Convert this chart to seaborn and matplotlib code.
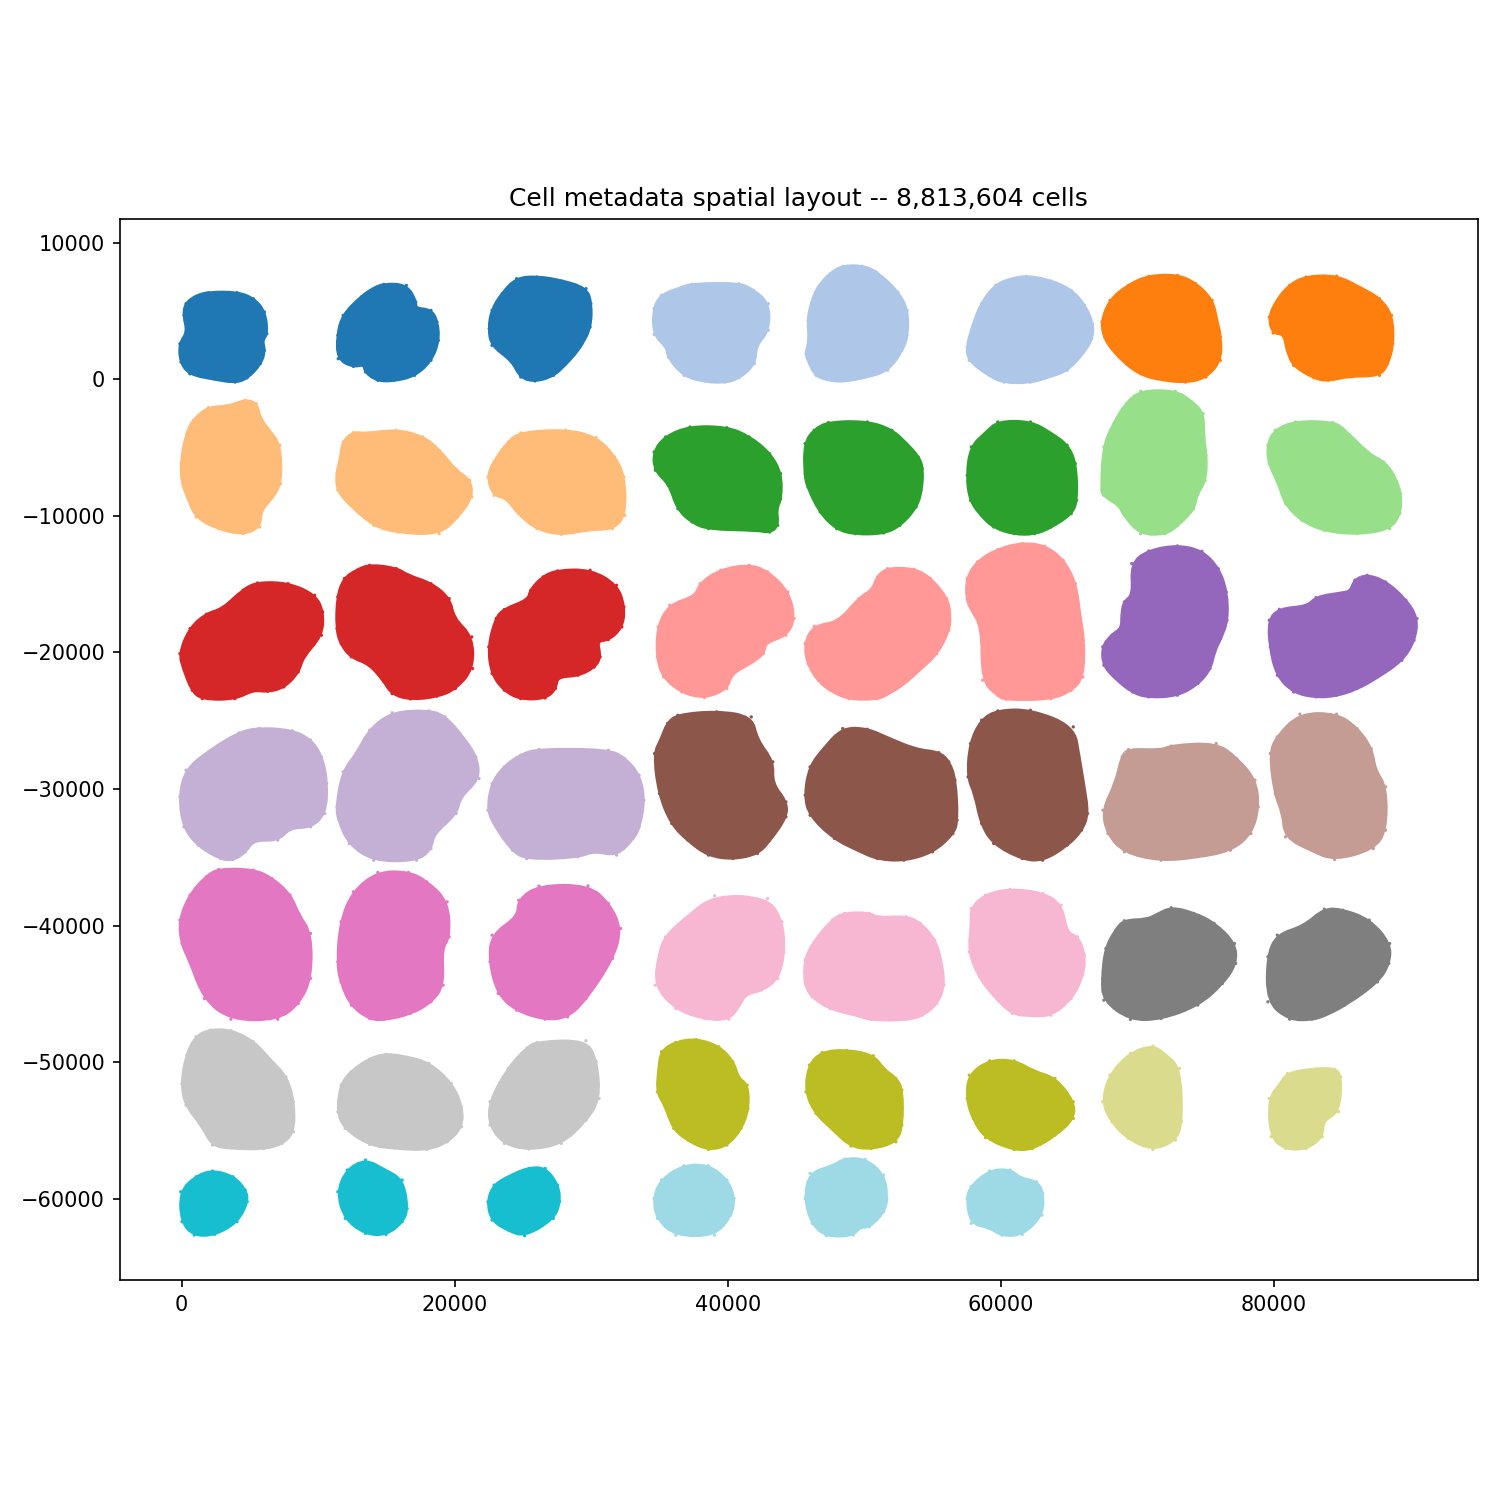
"""Spatial layout of all tissue sections, one colour per tab20 group."""

import matplotlib

matplotlib.use("Agg")
import matplotlib.pyplot as plt
import numpy as np
import pandas as pd
import seaborn as sns
from matplotlib.patches import PathPatch
from matplotlib.path import Path

TITLE = "Cell metadata spatial layout -- 8,813,604 cells"
X_TICKS = [0, 20000, 40000, 60000, 80000]
Y_TICKS = [10000, 0, -10000, -20000, -30000, -40000, -50000, -60000]

# how many consecutive sections share each tab20 colour
GROUP_SIZES = [3, 3, 2, 3, 3, 2, 3, 3, 2, 3, 3, 2, 3, 3, 2, 3, 3, 2, 3, 3]

# section outlines, (x, y) in data units
S01 = [(1960,6340),(4050,6340),(5250,5900),(6060,4930),(6240,3340),(5850,2850),(6060,2120),(5760,1150),(4800,120),(3900,-200),(2400,50),(600,400),(-50,1270),(-130,2600),(470,3460),(170,4680),(320,5540),(1060,6080)]
S02 = [(14820,6950),(16460,6880),(17150,5660),(17060,5170),(18260,5050),(18700,4200),(18800,2850),(18260,1390),(17060,290),(15570,-70),(14370,-70),(13470,540),(13410,1150),(12580,950),(11470,1510),(11440,3220),(11830,4680),(13170,6030),(14070,6640)]
S03 = [(24540,7370),(26030,7490),(27820,7200),(29620,6640),(29980,5540),(29920,3830),(29320,2610),(28720,1800),(28120,1150),(27230,290),(25880,-120),(24840,170),(24240,1390),(22740,2490),(22530,3710),(22740,5050),(23490,6270)]
S04 = [(37390,6950),(40830,7000),(41880,6510),(42980,5540),(42980,3590),(42030,2490),(41970,1150),(40830,120),(39780,-200),(38290,-120),(36800,290),(35660,1630),(35600,2370),(34610,3290),(34610,5170),(35150,6150),(36500,6640)]
S05 = [(48430,8270),(49860,8270),(50880,7860),(52460,6390),(53150,5050),(53150,3220),(52760,2120),(51720,660),(50070,170),(48430,-120),(47380,-20),(46480,290),(46040,1150),(45740,1880),(46040,2850),(45890,4320),(46190,5660),(46640,6760),(47530,7740)]
S06 = [(61880,7540),(63680,7200),(65170,6510),(66130,5420),(66730,4070),(66670,2980),(66070,2000),(64870,660),(63380,170),(62180,-200),(60240,-200),(59190,290),(57700,1390),(57550,2370),(58000,3950),(58600,5540),(59640,6880),(60690,7300)]
S07 = [(70850,7540),(72950,7610),(74290,7000),(75490,5780),(75790,4320),(76090,3100),(76090,1390),(75040,170),(73540,-200),(71450,50),(70260,410),(69210,1150),(68160,2240),(67620,3100),(67420,4200),(68010,5780),(69360,6880)]
S08 = [(82370,7490),(84610,7560),(86400,6640),(87750,5900),(88640,4680),(88730,2610),(88340,1150),(87750,290),(85500,290),(84010,-70),(82960,120),(81470,1020),(81020,2120),(80780,3390),(79970,3390),(79680,4560),(80270,5780),(81170,6880)]
S09 = [(4650,-1540),(5460,-1780),(5700,-2880),(6450,-3860),(7190,-4830),(7250,-7640),(6540,-8740),(5760,-9590),(5700,-10810),(4500,-11300),(2710,-10930),(1060,-10080),(470,-8610),(80,-7640),(-40,-6170),(380,-3980),(860,-3000),(1960,-2070),(3460,-2030)]
S10 = [(12580,-3900),(13470,-4030),(15720,-3730),(17660,-4220),(18860,-5200),(20050,-6710),(21100,-7390),(21250,-8610),(20200,-10080),(18860,-11300),(15870,-11180),(14070,-10690),(12280,-9100),(11440,-8120),(11380,-6900),(11680,-5810),(11830,-4590)]
S11 = [(24840,-3930),(28120,-3730),(30370,-4270),(31710,-5680),(32400,-7150),(32460,-9960),(31560,-10930),(29920,-10930),(27820,-11350),(26030,-10930),(24690,-9830),(23790,-8610),(22890,-8490),(22440,-7150),(22890,-6050),(23940,-4590)]
S12 = [(37240,-3490),(39940,-3540),(41580,-4220),(43070,-5440),(43880,-6900),(43880,-8740),(43520,-9470),(43670,-10690),(43070,-11180),(42180,-11000),(38590,-10930),(37390,-10440),(36350,-9470),(35750,-7640),(34700,-6660),(34610,-5320),(35450,-4220)]
S13 = [(47380,-3170),(50220,-3120),(52020,-3730),(53060,-4710),(53960,-5680),(54260,-6540),(54170,-8120),(53810,-9340),(52620,-10690),(51420,-11250),(49330,-11300),(47980,-10930),(46780,-9710),(45890,-7880),(45680,-6900),(45680,-4710),(46340,-3730)]
S14 = [(59790,-3120),(62180,-3120),(63680,-3980),(64870,-4830),(65470,-6170),(65560,-8860),(65170,-9830),(63680,-10810),(62480,-11300),(60990,-11300),(59490,-10810),(58600,-9950),(57790,-8860),(57550,-7030),(57850,-4950),(58890,-3980)]
S15 = [(70260,-880),(72800,-880),(73990,-1660),(74830,-2510),(74830,-4460),(75040,-5560),(74980,-7390),(74290,-8490),(74140,-9470),(72950,-10690),(72050,-11300),(70260,-11300),(69060,-9950),(68760,-9220),(67560,-8490),(67420,-8120),(67560,-4950),(68310,-3240),(69210,-1780)]
S16 = [(81620,-3120),(84310,-3170),(85060,-3610),(87000,-5560),(88050,-6050),(88790,-7030),(89300,-8370),(89240,-9830),(88500,-10930),(86100,-11300),(83710,-11050),(82070,-10320),(80870,-9100),(80420,-7640),(79680,-6170),(79580,-4830),(80120,-3730)]
S17 = [(5550,-14910),(7790,-14960),(9740,-15810),(10330,-17030),(10240,-18740),(8840,-20320),(8540,-21420),(7490,-22520),(6300,-22840),(5250,-22690),(3900,-23380),(1510,-23380),(770,-22760),(170,-21180),(-130,-20080),(620,-18250),(1810,-17200),(3010,-16860),(4500,-15440)]
S18 = [(13770,-13620),(15720,-13860),(16610,-14420),(18260,-14960),(19600,-16060),(19900,-17520),(21250,-18860),(21310,-21180),(20050,-22640),(18700,-23200),(16760,-23400),(15420,-23010),(14820,-22030),(13770,-20810),(12430,-20320),(11680,-19350),(11380,-18250),(11440,-15930),(11920,-14590),(12880,-13980)]
S19 = [(27530,-14030),(29920,-13980),(31860,-15080),(32400,-16660),(32250,-18130),(31260,-19060),(30370,-19100),(30660,-20320),(30220,-21060),(29020,-21670),(27470,-21740),(27380,-22640),(26630,-23330),(24840,-23380),(23640,-22760),(22740,-21540),(22500,-19590),(23040,-17520),(23640,-16860),(25430,-16180),(25580,-15440),(26480,-14470)]
S20 = [(41580,-13620),(42920,-14100),(44420,-15570),(44870,-17520),(44270,-18740),(42720,-19230),(42620,-20080),(41580,-20810),(40230,-21540),(39940,-22640),(38290,-23300),(36650,-22890),(35300,-21790),(34850,-20320),(34910,-18130),(35750,-16540),(37690,-15930),(37990,-14960),(39490,-13980)]
S21 = [(51720,-13860),(53660,-13910),(54860,-14590),(56050,-16060),(56260,-17150),(56200,-18370),(55310,-20080),(54110,-21180),(52910,-22280),(51720,-23010),(50970,-23380),(48880,-23380),(47530,-22760),(46640,-22030),(45890,-20810),(45680,-19350),(46340,-18080),(48130,-17840),(49620,-16060),(50670,-15440),(50970,-14470)]
S22 = [(61580,-12030),(63230,-12220),(64580,-13250),(65470,-14960),(65770,-17400),(66070,-19100),(66010,-21790),(65170,-22760),(63680,-23380),(60390,-23420),(59790,-23130),(58680,-22030),(58680,-18130),(57850,-16790),(57550,-16060),(57550,-14590),(58300,-13370),(59790,-12470)]
S23 = [(72950,-12200),(74740,-12590),(75940,-13860),(76530,-15570),(76590,-17640),(76090,-18980),(75640,-19840),(75340,-21180),(74440,-22280),(72950,-23130),(70850,-23250),(69660,-22890),(68460,-21910),(67560,-20940),(67480,-19590),(68160,-18740),(68910,-18250),(68910,-17280),(69060,-16300),(69750,-15810),(69600,-13490),(70850,-12570)]
S24 = [(86850,-14350),(88200,-14840),(89690,-16180),(90500,-17520),(90290,-19100),(89390,-20570),(87600,-21790),(86100,-22640),(84610,-23130),(83110,-23250),(81470,-22890),(80270,-21670),(79760,-19590),(79680,-17640),(80420,-16840),(82520,-16660),(83110,-15980),(84910,-15690),(85660,-15570),(85950,-14710)]
S25 = [(5700,-25570),(8090,-25740),(9440,-26420),(10240,-27640),(10630,-29600),(10480,-31790),(9440,-32770),(7940,-32770),(7040,-33740),(5250,-33670),(4650,-34600),(3760,-35160),(2860,-35090),(1210,-34110),(170,-32770),(-130,-30570),(320,-28620),(1960,-27280),(4200,-25890)]
S26 = [(15420,-24420),(18110,-24280),(19300,-24720),(20650,-26300),(21550,-27640),(21780,-29230),(20350,-30570),(20110,-31790),(18410,-33260),(18260,-34360),(17210,-35210),(14070,-35210),(12280,-33990),(11530,-32280),(11380,-31300),(11830,-28740),(12880,-27400),(13770,-25690)]
S27 = [(26180,-27110),(31260,-27160),(32460,-27770),(33510,-28990),(33860,-30820),(33510,-32770),(33060,-33620),(31860,-34840),(30220,-34480),(29020,-34960),(25280,-35090),(24240,-34480),(23040,-32770),(22440,-31550),(22740,-29600),(23640,-28380),(24840,-27520)]
S28 = [(36350,-24600),(39190,-24350),(41730,-24720),(42120,-26420),(43310,-28010),(43220,-29600),(44270,-30940),(44270,-32040),(43070,-33740),(42180,-34720),(40380,-35090),(38590,-34840),(37090,-33740),(35900,-32520),(35000,-30330),(34640,-27400),(35150,-26420),(35600,-25200)]
S29 = [(48430,-25570),(50220,-25620),(51720,-26300),(53810,-27160),(55460,-27330),(56200,-28010),(56650,-29350),(56800,-32280),(56500,-33260),(55010,-34600),(52910,-35210),(50970,-35090),(49620,-34480),(47830,-33620),(46040,-31920),(45680,-30450),(46040,-28380),(47080,-27040)]
S30 = [(59790,-24280),(62180,-24230),(65320,-25450),(65710,-27640),(66070,-29840),(66370,-31790),(65920,-33010),(64870,-34110),(63080,-35210),(61580,-35090),(59490,-33990),(58600,-32520),(58150,-30330),(57610,-29110),(57790,-26670),(58600,-24960)]
S31 = [(69360,-27110),(71750,-27210),(72500,-26860),(75790,-26670),(77280,-27770),(78630,-29350),(78870,-31300),(78330,-33260),(76830,-34480),(74400,-34950),(71750,-35210),(69060,-34600),(67860,-33260),(67500,-31550),(68460,-29600),(68910,-27640)]
S32 = [(81920,-24520),(84610,-24520),(86100,-25570),(87150,-27040),(87390,-28620),(88200,-29840),(88200,-33010),(87300,-34360),(84460,-35160),(82810,-34480),(80870,-33500),(80720,-31790),(80120,-30330),(79760,-27400),(80270,-26180)]
S33 = [(2710,-35890),(5250,-35940),(6600,-36550),(7940,-37770),(8540,-39240),(9440,-40580),(9440,-43870),(8540,-45700),(7040,-46850),(3610,-46850),(1660,-45340),(620,-42530),(20,-41310),(-130,-39600),(620,-37770),(1810,-36430)]
S34 = [(14370,-36110),(16610,-36110),(17960,-36800),(19450,-38260),(19600,-40820),(19000,-41680),(19150,-44360),(18260,-45580),(16760,-46430),(14820,-46870),(13770,-46800),(12430,-45820),(11680,-44120),(11440,-42650),(11680,-39720),(12580,-37530)]
S35 = [(26180,-37110),(29770,-37090),(31260,-38380),(32160,-40210),(31560,-42410),(29620,-45340),(28270,-46680),(26630,-46850),(24540,-46190),(23190,-44970),(22590,-42650),(22740,-40700),(24690,-39360),(24690,-38140)]
S36 = [(39040,-37820),(42920,-38020),(43970,-39720),(44120,-41920),(43670,-43870),(42480,-44720),(41280,-44970),(40830,-45820),(40080,-46850),(38290,-46800),(36200,-46070),(34700,-44360),(35000,-42160),(35450,-40820),(36940,-39480)]
S37 = [(48580,-39110),(50370,-39110),(50970,-39480),(53060,-39360),(54110,-39840),(55160,-41060),(55600,-42530),(55840,-44360),(55310,-45700),(54260,-46560),(53060,-46870),(50520,-46870),(49620,-46560),(47530,-46070),(46190,-45210),(45680,-44240),(45680,-42530),(46340,-41190),(47680,-39600)]
S38 = [(60690,-37360),(63080,-37650),(64430,-38500),(64810,-40580),(65620,-40820),(66130,-42160),(66010,-43630),(65170,-45340),(63680,-46560),(62180,-46560),(60840,-46430),(59490,-45090),(58450,-43750),(57700,-41920),(57910,-39840),(57850,-38750),(58890,-37770)]
S39 = [(72500,-38700),(74140,-39110),(75640,-39840),(77130,-41310),(77220,-42770),(76240,-44240),(74440,-45820),(71750,-46800),(69510,-46870),(67560,-45460),(67480,-43870),(67710,-41680),(68460,-40330),(69060,-39650),(70700,-39600),(71450,-39240)]
S40 = [(83710,-38800),(85060,-38870),(87000,-39600),(88500,-41310),(88440,-42770),(87600,-44120),(85210,-45820),(83710,-46560),(82810,-46850),(81170,-46850),(79580,-45580),(79580,-42280),(80270,-40700),(82220,-40090)]
S41 = [(2110,-47650),(3610,-47700),(5250,-48510),(6450,-49850),(7640,-51070),(8180,-52900),(8180,-55100),(7340,-55950),(6000,-56320),(3610,-56270),(2260,-56070),(1510,-54610),(320,-53140),(20,-51560),(380,-49480),(1060,-48140)]
S42 = [(14970,-49430),(16460,-49650),(18110,-50090),(19750,-51560),(20500,-53260),(20500,-54730),(19450,-55830),(17960,-56390),(15570,-56270),(13770,-56020),(11980,-54850),(11440,-53630),(11680,-51680),(12430,-50700),(13770,-49780)]
S43 = [(26030,-48560),(29620,-48430),(30370,-49970),(30580,-52660),(29620,-54240),(27820,-55950),(25430,-56360),(23640,-55950),(22590,-54610),(22590,-52900),(23940,-50460),(25280,-49000)]
S44 = [(37690,-48340),(39340,-48870),(40380,-49970),(40740,-51190),(41430,-51680),(41490,-53390),(40980,-54850),(39940,-56070),(38590,-56390),(37090,-55700),(36050,-54850),(35450,-53140),(34850,-52170),(35000,-50460),(35150,-49240),(36200,-48560)]
S45 = [(48730,-49140),(50670,-49530),(51420,-50580),(52320,-51190),(52760,-52040),(52760,-54610),(52320,-55830),(50520,-56320),(49030,-56140),(47680,-54850),(46480,-53750),(45740,-52170),(45980,-50220),(46930,-49290)]
S46 = [(59190,-49900),(60990,-49900),(62480,-50750),(63980,-51190),(65320,-52900),(65320,-54120),(63980,-55340),(62330,-56320),(60990,-56390),(58890,-55530),(58000,-54120),(57550,-52660),(57700,-50950)]
S47 = [(71150,-48820),(72050,-49480),(73100,-50460),(73250,-54360),(72800,-55700),(71150,-56390),(69360,-55580),(68160,-54360),(67480,-52900),(68010,-50950),(69510,-49360)]
S48 = [(83110,-50510),(84460,-50510),(84910,-51070),(84760,-53630),(83560,-54240),(83560,-55460),(82370,-56320),(80870,-56320),(79820,-55460),(79680,-52660),(80570,-51560),(81020,-50830)]
S49 = [(2260,-57970),(3760,-58390),(4650,-59360),(4800,-60220),(4050,-61680),(2410,-62610),(920,-62660),(20,-61680),(-70,-59490),(1060,-58390)]
S50 = [(13470,-57170),(14820,-57900),(16160,-58630),(16520,-60710),(16160,-61680),(14970,-62610),(13470,-62540),(11980,-61440),(11440,-59490),(12130,-57900)]
S51 = [(25430,-57780),(26630,-57780),(27530,-59000),(27680,-60220),(27230,-61440),(25130,-62710),(23940,-62290),(22740,-61560),(22440,-60220),(22890,-59000),(24240,-58270)]
S52 = [(36800,-57580),(38590,-57580),(39940,-58630),(40470,-59980),(40230,-61200),(39040,-62660),(36200,-62660),(34850,-61440),(34610,-59980),(35150,-58630)]
S53 = [(48580,-57100),(50070,-57120),(51420,-58270),(51660,-59980),(51420,-60950),(50370,-62050),(49620,-62050),(49180,-62660),(47230,-62710),(46190,-61800),(45680,-59980),(46040,-58140),(47680,-57660)]
S54 = [(59190,-57970),(60690,-57900),(61440,-58560),(62630,-58760),(63080,-59610),(63020,-61200),(61580,-62610),(60090,-62660),(59190,-62050),(57850,-61800),(57550,-59980),(57850,-59120)]

SECTIONS = [
    S01, S02, S03, S04, S05, S06, S07, S08, S09, S10, S11, S12, S13, S14, S15, S16, S17, S18,
    S19, S20, S21, S22, S23, S24, S25, S26, S27, S28, S29, S30, S31, S32, S33, S34, S35, S36,
    S37, S38, S39, S40, S41, S42, S43, S44, S45, S46, S47, S48, S49, S50, S51, S52, S53, S54,
]


def rounded_outline(xy):
    # closed quadratic curve with the outline vertices as control points
    xy = np.asarray(xy, dtype=float)
    mid = (xy + np.roll(xy, -1, axis=0)) / 2
    verts = [mid[-1]]
    codes = [Path.MOVETO]
    for ctrl, end in zip(xy, mid):
        verts += [ctrl, end]
        codes += [Path.CURVE3, Path.CURVE3]
    return Path(verts, codes)


def main():
    palette = sns.color_palette("tab20", 20)
    colour_idx = [i for i, n in enumerate(GROUP_SIZES) for _ in range(n)]

    rows = []
    for sec, (outline, c) in enumerate(zip(SECTIONS, colour_idx)):
        for x, y in outline:
            rows.append({"section": sec, "colour": c, "x": x, "y": y})
    df = pd.DataFrame(rows)

    fig = plt.figure(figsize=(10, 10), dpi=150)
    ax = fig.add_axes([119.7 / 1500, 220 / 1500, 1358 / 1500, 1061 / 1500])

    # interior of each section, then the rim cells on top
    for sec, sub in df.groupby("section"):
        colour = palette[sub["colour"].iloc[0]]
        path = rounded_outline(sub[["x", "y"]].to_numpy())
        ax.add_patch(PathPatch(path, facecolor=colour, edgecolor=colour, lw=2.0))
    sns.scatterplot(
        data=df, x="x", y="y", hue="colour", palette=palette,
        s=2.5, linewidth=0, legend=False, ax=ax,
    )

    ax.set_xlim(-4540, 94950)
    ax.set_ylim(-65950, 11740)
    ax.set_xticks(X_TICKS)
    ax.set_yticks(Y_TICKS)
    ax.set_xlabel("")
    ax.set_ylabel("")
    ax.set_title(TITLE, fontsize=12)
    fig.savefig("out.png", dpi=150)
    plt.close(fig)


if __name__ == "__main__":
    main()
